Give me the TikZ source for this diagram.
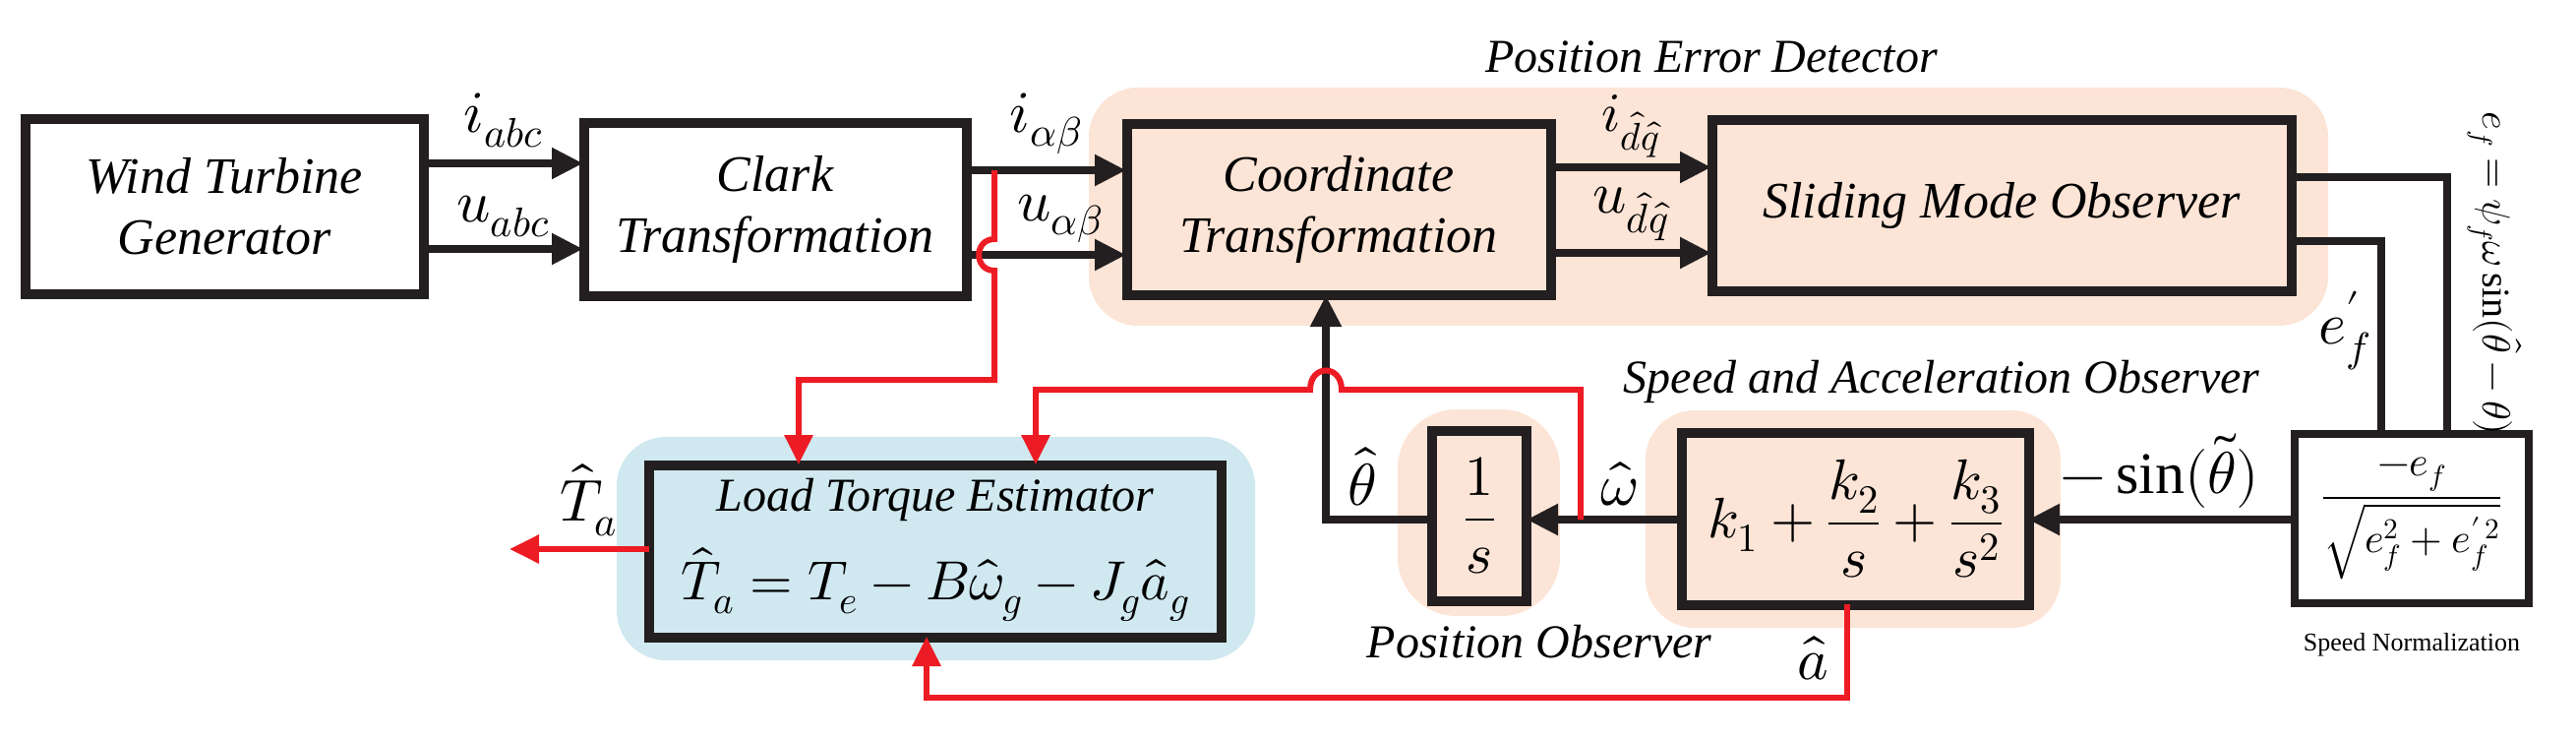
\documentclass[tikz,border=0pt]{standalone}
\usepackage{fontspec}
\usepackage{unicode-math}
\setmainfont{Liberation Serif}
\usetikzlibrary{arrows.meta}
\definecolor{bgor}{RGB}{252,228,214}
\definecolor{bgbl}{RGB}{208,232,240}
\definecolor{rd}{RGB}{237,28,36}
\definecolor{bk}{RGB}{35,31,32}
\begin{document}
\begin{tikzpicture}[x=1pt,y=-1pt,
  blk/.style={draw=bk,line width=10pt,inner sep=0pt,align=center,font=\fontsize{52}{62}\selectfont\itshape},
  arr/.style={draw=bk,line width=8pt,-{Triangle[length=32pt,width=30pt]}},
  rarr/.style={draw=rd,line width=6pt,-{Triangle[length=30pt,width=28pt]}},
  lbl/.style={font=\fontsize{60}{66}\selectfont,inner sep=0pt},
  ttl/.style={font=\fontsize{48}{54}\selectfont\itshape,inner sep=0pt}]
\useasboundingbox (0,0) rectangle (2619,752);
% backgrounds
\fill[bgor,rounded corners=50pt] (1107,89) rectangle (2367,331);
\fill[bgor,rounded corners=50pt] (1673,417) rectangle (2095,638);
\fill[bgor,rounded corners=60pt] (1421,416) rectangle (1586,626);
\fill[bgbl,rounded corners=50pt] (627,444) rectangle (1276,671);
% boxes
\node[blk,minimum width=405pt,minimum height=178pt] (wtg) at (228,210) {Wind Turbine\\Generator};
\node[blk,minimum width=389pt,minimum height=176pt] (clk) at (788,213) {Clark\\Transformation};
\node[blk,fill=bgor,minimum width=431pt,minimum height=174pt] (ct) at (1361,213) {Coordinate\\Transformation};
\node[blk,fill=bgor,minimum width=589pt,minimum height=174pt] (smo) at (2035,209) {Sliding Mode Observer};
\node[blk,fill=bgor,minimum width=353pt,minimum height=175pt] (kb) at (1886,527)
  {\fontsize{58}{60}\selectfont$\displaystyle k_1+\frac{k_2}{s}+\frac{k_3}{s^2}$};
\node[blk,fill=bgor,minimum width=96pt,minimum height=173pt] (is) at (1504,524)
  {\fontsize{58}{60}\selectfont$\displaystyle\frac{1}{s}$};
\node[blk,fill=white,minimum width=238pt,minimum height=172pt,line width=8pt] (sn) at (2452,527)
  {\fontsize{42}{48}\selectfont$\displaystyle\frac{-e_f}{\sqrt{e_f^2+e_f'^{\,2}}}$};
\node[blk,fill=bgbl,minimum width=582pt,minimum height=175pt] (lte) at (951,560) {};
\node[ttl] (ltet) at (951,508) {Load Torque Estimator};
\node[lbl] (ltef) at (951,594) {\fontsize{56}{60}\selectfont$\hat T_a=T_e-B\hat\omega_g-J_g\hat a_g$};
% titles
\node[ttl] (t1) at (1740,58) {Position Error Detector};
\node[ttl] (t2) at (1974,388) {Speed and Acceleration Observer};
\node[ttl] (t3) at (1565,652) {Position Observer};
\node[font=\fontsize{26}{30}\selectfont,inner sep=0pt] (t4) at (2452,655) {Speed Normalization};
% top arrows
\draw[arr] (431,166) -- (593,166) node[lbl,midway,above=12pt] {$i_{abc}$};
\draw[arr] (431,253) -- (593,253) node[lbl,midway,above=8pt] {$u_{abc}$};
\draw[arr] (982,173) -- (1145,173) node[lbl,midway,above=12pt] {$i_{\alpha\beta}$};
\draw[arr] (1011,259) -- (1145,259) node[lbl,midway,above=8pt] {$u_{\alpha\beta}$};
\draw[draw=bk,line width=8pt] (982,259) -- (1011,259);
\draw[arr] (1576,170) -- (1740,170) node[lbl,midway,above=6pt,font=\fontsize{56}{60}\selectfont] {$i_{\hat d\hat q}$};
\draw[arr] (1576,257) -- (1740,257) node[lbl,midway,above=8pt] {$u_{\hat d\hat q}$};
% smo to sn
\coordinate (c1) at (2488,180);
\coordinate (c2) at (2421,245);
\draw[bk,line width=8pt] (2329,180) -- (c1) -- (2488,441);
\draw[bk,line width=8pt] (2329,245) -- (c2) -- (2421,441);
\node[lbl] (ef) at (2384,336) {$e_f'$};
\node[lbl,rotate=-90,font=\fontsize{40}{46}\selectfont] (efe) at (2536,278) {$e_f=\psi_f\omega\sin(\hat\theta-\theta)$};
% bottom
\draw[arr] (sn.west |- 0,528) -- (2062,528) node[lbl,midway,above=8pt] {$-\sin(\tilde\theta)$};
\draw[arr] (1709,528) -- (1552,528) node[lbl,pos=0.4,above=10pt] {$\hat\omega$};
\coordinate (c3) at (1348,528);
\draw[arr] (1456,528) -- (c3) -- (1348,300);
\node[lbl] (th) at (1385,484) {$\hat\theta$};
% red
\draw[rarr] (1607,528) -- (1607,396) -- (1364,396) .. controls (1364,370) and (1332,370) .. (1332,396) -- (1053,396) -- (1053,472);
\draw[rarr] (1011,173) -- (1011,243) .. controls (990,243) and (990,275) .. (1011,275) -- (1011,386) -- (812,386) -- (812,472);
\draw[rarr] (1878,614) -- (1878,709) -- (942,709) -- (942,647);
\node[lbl] (ah) at (1843,669) {$\hat a$};
\draw[rarr] (660,558) -- (518,558);
\node[lbl] (ta) at (598,508) {$\hat T_a$};
\end{tikzpicture}
\end{document}
